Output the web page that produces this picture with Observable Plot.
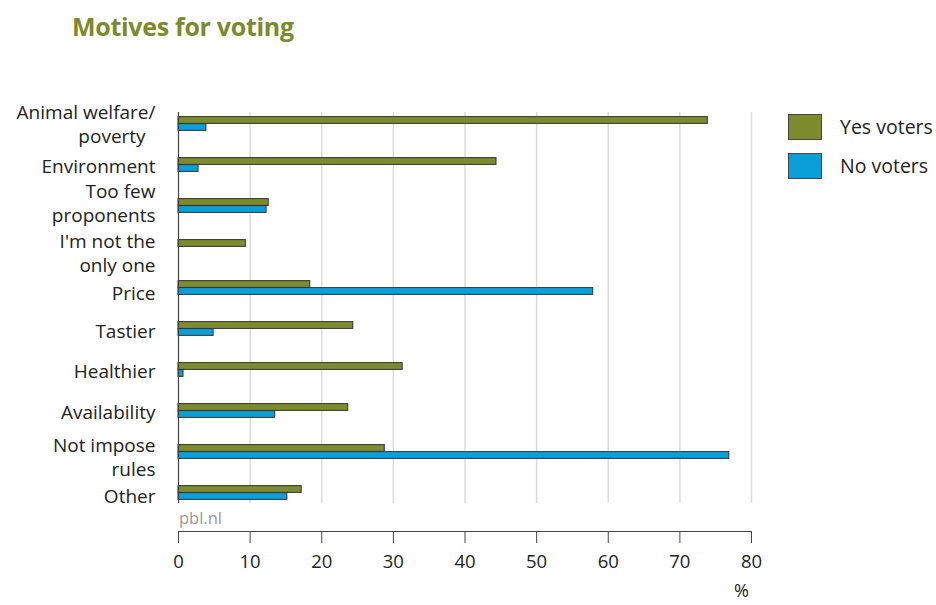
<!DOCTYPE html>
<html>
<head>
<meta charset="utf-8">
<script src="https://cdn.jsdelivr.net/npm/d3@7"></script>
<script src="https://cdn.jsdelivr.net/npm/@observablehq/plot@0.6"></script>
<style>
  html, body { margin: 0; padding: 0; background: #fff; }
  #wrap { position: relative; width: 936px; height: 605px; font-family: "Open Sans", sans-serif; color: #222; }
  #title { position: absolute; left: 72px; top: 9px; font-size: 25px; font-weight: 700; color: #7b8a2b; letter-spacing: -0.3px; }
  #chart { position: absolute; left: 0; top: 0; }
  .legend-item { position: absolute; left: 788px; display: flex; align-items: center; font-size: 19.5px; color: #222; }
  .swatch { width: 34px; height: 26px; border: 1px solid #444; box-sizing: border-box; margin-right: 18px; }
  #source { position: absolute; left: 179px; top: 506px; font-size: 16.5px; color: #999; }
  #unit { position: absolute; left: 734px; top: 579px; font-size: 18px; line-height: 22px; color: #222; }
</style>
</head>
<body>
<div id="wrap">
  <div id="chart"></div>
  <div id="title">Motives for voting</div>
  <div id="legend"></div>
  <div id="source">pbl.nl</div>
  <div id="unit">%</div>
</div>
<script>
const categories = ["Animal welfare/\npoverty\u00a0\u00a0", "Environment", "Too few\nproponents", "I'm not the\nonly one", "Price", "Tastier", "Healthier", "Availability", "Not impose\nrules", "Other"];
const yesVoters = [73.9, 44.4, 12.6, 9.4, 18.4, 24.4, 31.3, 23.7, 28.8, 17.2];
const noVoters = [3.9, 2.8, 12.3, 0, 57.9, 4.9, 0.7, 13.5, 76.9, 15.2];
const seriesNames = ["Yes voters", "No voters"];
const seriesColors = ["#7d8b2d", "#0a9fd9"];
const xTicks = [0, 10, 20, 30, 40, 50, 60, 70, 80];

const yesData = categories.map((c, i) => ({category: c, value: yesVoters[i]}));
const noData = categories.map((c, i) => ({category: c, value: noVoters[i]})).filter(d => d.value > 0);

const half = 41.2 / 2;
const barH = 7;

// vertical nudges of category labels (styling only)
const labelStyle = {
  "Animal welfare/\npoverty\u00a0\u00a0": {dy: -1},
  "Environment": {dy: 0},
  "Too few\nproponents": {dy: -4},
  "I'm not the\nonly one": {dy: 5},
  "Price": {dy: 4},
  "Tastier": {dy: 1},
  "Healthier": {dy: 0},
  "Availability": {dy: 0},
  "Not impose\nrules": {dy: 4},
  "Other": {dy: 2.5}
};

const labelMarks = categories.map(c => Plot.text([c], {
  y: d => d,
  text: d => d,
  frameAnchor: "left",
  textAnchor: "end",
  dx: -23,
  dy: (labelStyle[c] || {}).dy || 0,
  lineHeight: 1.3,
  fontSize: 19,
  fill: "#222"
}));

const chart = Plot.plot({
  width: 936,
  height: 605,
  marginLeft: 178,
  marginRight: 185,
  marginTop: 102,
  marginBottom: 74,
  style: {fontFamily: "Open Sans, sans-serif", color: "#222", background: "transparent"},
  x: {domain: [0, 80], ticks: xTicks},
  y: {domain: categories, padding: 0, insetBottom: 17, axis: null},
  marks: [
    Plot.ruleX(xTicks.filter(t => t > 0), {stroke: "#dcdcdc", strokeWidth: 1.5, insetTop: 10, insetBottom: 28}),
    Plot.barX(yesData, {x: "value", y: "category", fill: seriesColors[0], stroke: "#333", strokeWidth: 1, insetTop: half - barH, insetBottom: half}),
    Plot.barX(noData, {x: "value", y: "category", fill: seriesColors[1], stroke: "#333", strokeWidth: 1, insetTop: half, insetBottom: half - barH}),
    Plot.ruleX([0], {stroke: "#444", strokeWidth: 1.2, insetTop: 10, insetBottom: 28}),
    ...labelMarks,
    Plot.axisX({ticks: xTicks, tickSize: 12, tickPadding: 11, fontSize: 18.5, label: null, stroke: "#444", fill: "#222"}),
    Plot.frame({anchor: "bottom", stroke: "#444"})
  ]
});
document.getElementById("chart").appendChild(chart);

const legend = document.getElementById("legend");
seriesNames.forEach((name, i) => {
  const item = document.createElement("div");
  item.className = "legend-item";
  item.style.top = (113 + i * 39) + "px";
  const sw = document.createElement("div");
  sw.className = "swatch";
  sw.style.background = seriesColors[i];
  const label = document.createElement("span");
  label.textContent = name;
  item.appendChild(sw);
  item.appendChild(label);
  legend.appendChild(item);
});
</script>
</body>
</html>
